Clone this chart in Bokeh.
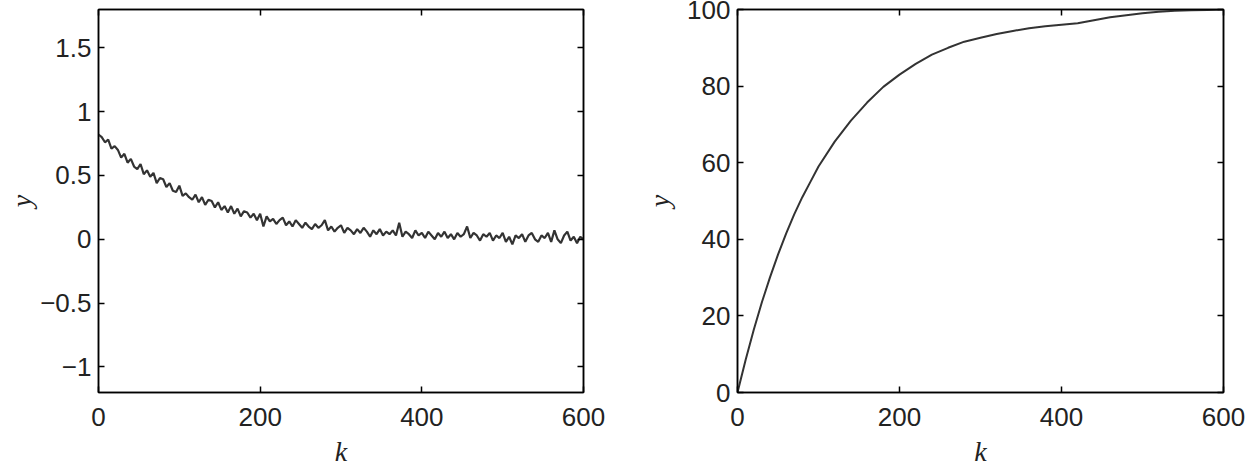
from bokeh.plotting import figure
from bokeh.layouts import row
from bokeh.models import Range1d, LinearAxis, FixedTicker, CustomJSTickFormatter
from bokeh.embed import file_html
from bokeh.resources import INLINE

# ---- data ----
k_left = list(range(0, 601, 4))
y_left = [
    0.82, 0.80, 0.76, 0.78, 0.71, 0.73, 0.70, 0.64, 0.67, 0.60,
    0.63, 0.57, 0.55, 0.59, 0.51, 0.54, 0.49, 0.52, 0.44, 0.48,
    0.47, 0.41, 0.44, 0.38, 0.37, 0.42, 0.34, 0.36, 0.33, 0.31,
    0.35, 0.29, 0.33, 0.27, 0.31, 0.30, 0.25, 0.29, 0.23, 0.26,
    0.21, 0.26, 0.20, 0.24, 0.18, 0.22, 0.21, 0.17, 0.20, 0.15,
    0.20, 0.10, 0.18, 0.14, 0.16, 0.12, 0.15, 0.17, 0.11, 0.14,
    0.10, 0.15, 0.12, 0.09, 0.13, 0.10, 0.08, 0.12, 0.09, 0.11,
    0.15, 0.07, 0.10, 0.06, 0.09, 0.11, 0.05, 0.09, 0.07, 0.04,
    0.08, 0.05, 0.09, 0.06, 0.02, 0.07, 0.04, 0.08, 0.03, 0.06,
    0.04, 0.07, 0.03, 0.13, 0.02, 0.06, 0.04, 0.01, 0.07, 0.03,
    0.05, 0.01, 0.06, 0.03, 0.00, 0.05, 0.02, 0.06, 0.01, 0.04,
    0.00, 0.05, 0.02, 0.04, 0.10, 0.01, 0.05, 0.03, -0.01, 0.04,
    0.02, 0.05, -0.01, 0.03, 0.01, 0.05, -0.02, 0.02, -0.04, 0.03,
    0.01, 0.04, -0.02, 0.03, 0.05, 0.00, -0.02, 0.03, 0.01, 0.05,
    -0.02, 0.07, 0.00, -0.03, 0.03, 0.06, -0.01, 0.02, -0.03, 0.02,
    0.00,
]

k_right = [0, 10, 20, 30, 40, 50, 60, 70, 80, 90, 100, 120, 140, 160, 180, 200,
           220, 240, 260, 280, 300, 320, 340, 360, 380, 400, 420, 440, 460, 480,
           500, 520, 540, 560, 580, 600]
y_right = [0, 8.5, 16.3, 23.5, 30, 36, 41.5, 46.5, 51, 55, 59, 65.5, 71, 75.7, 79.8, 83,
           85.8, 88.2, 90, 91.6, 92.6, 93.6, 94.4, 95.1, 95.6, 96.0, 96.4, 97.2, 98.0, 98.5,
           99.0, 99.4, 99.7, 99.8, 99.9, 100]

x_ticks = [0, 200, 400, 600]
y_ticks_left = [-1, -0.5, 0, 0.5, 1, 1.5]
y_ticks_right = [0, 20, 40, 60, 80, 100]

TXT = "#222222"
fmt_code = "return (tick < 0 ? '\u2212' : '') + Math.abs(tick).toString();"


def style_axis(ax, ticks, labels=True, label=None):
    ax.ticker = FixedTicker(ticks=ticks)
    ax.axis_line_color = "black"
    ax.axis_line_width = 1.5
    ax.major_tick_line_color = "black"
    ax.major_tick_line_width = 1.5
    ax.major_tick_in = 6
    ax.major_tick_out = 0
    ax.minor_tick_in = 0
    ax.minor_tick_out = 0
    if labels:
        ax.formatter = CustomJSTickFormatter(code=fmt_code)
        ax.major_label_text_font = "Liberation Sans"
        ax.major_label_text_font_size = "26px"
        ax.major_label_text_color = TXT
    else:
        ax.formatter = CustomJSTickFormatter(code="return '';")
        ax.major_label_standoff = 0
        ax.major_label_text_font_size = "1px"
    if label is not None:
        ax.axis_label = label
        ax.axis_label_text_font = "Liberation Serif"
        ax.axis_label_text_font_style = "italic"
        ax.axis_label_text_font_size = "28px"
        ax.axis_label_text_color = TXT


def make_fig(fw, yr, yticks, bl, br, ylab_standoff, k, y, lw):
    p = figure(frame_width=fw, frame_height=383,
               x_range=Range1d(0, 600), y_range=Range1d(*yr),
               toolbar_location=None, output_backend="svg",
               min_border_left=bl, min_border_right=br,
               min_border_top=9, min_border_bottom=74,
               background_fill_color="white", border_fill_color="white")
    p.outline_line_color = "black"
    p.outline_line_width = 1.5
    p.xgrid.visible = False
    p.ygrid.visible = False
    style_axis(p.xaxis[0], x_ticks, True, "k")
    p.xaxis[0].major_label_standoff = 15
    p.xaxis[0].axis_label_standoff = 7
    style_axis(p.yaxis[0], yticks, True, "y")
    p.yaxis[0].major_label_standoff = 7
    p.yaxis[0].axis_label_standoff = ylab_standoff
    top = LinearAxis()
    style_axis(top, x_ticks, False)
    p.add_layout(top, "above")
    right = LinearAxis()
    style_axis(right, yticks, False)
    p.add_layout(right, "right")
    p.line(k, y, line_color="#333333", line_width=lw)
    return p


p1 = make_fig(485, (-1.2, 1.8), y_ticks_left, 98, 57, 0, k_left, y_left, 2.2)
p2 = make_fig(486, (0, 100), y_ticks_right, 97, 23, 9, k_right, y_right, 2.0)

p = row(p1, p2)
open("out.html", "w").write(file_html(p, INLINE))
